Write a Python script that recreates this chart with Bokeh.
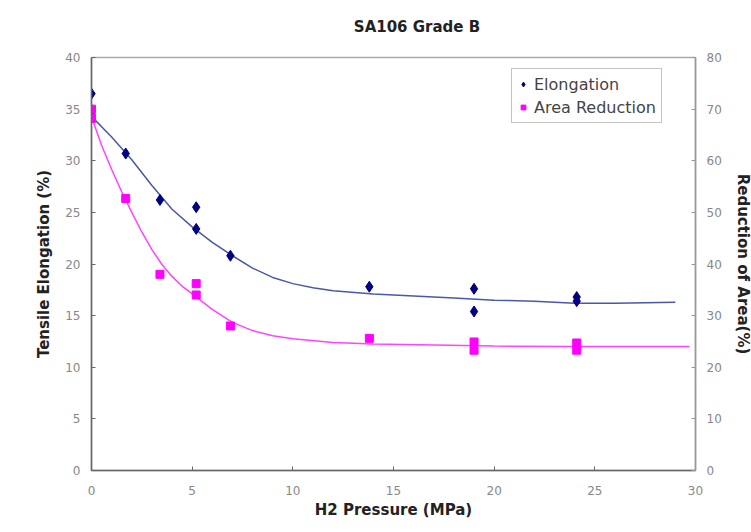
import math
from bokeh.plotting import figure
from bokeh.models import Range1d, LinearAxis, FixedTicker, Legend, LegendItem
from bokeh.embed import file_html
from bokeh.resources import INLINE

# ---- data ----
pressure_el = [0, 0, 1.7, 3.4, 5.2, 5.2, 6.9, 13.8, 19.0, 19.0, 24.1, 24.1]
elongation = [36.5, 34.5, 30.7, 26.2, 25.5, 23.4, 20.8, 17.8, 17.6, 15.4, 16.8, 16.4]

pressure_ra = [0, 0, 1.7, 3.4, 5.2, 5.2, 6.9, 13.8, 19.0, 19.0, 24.1, 24.1]
area_reduction = [70.0, 68.2, 52.7, 38.0, 36.2, 34.0, 28.0, 25.6, 24.9, 23.3, 24.7, 23.3]

# trend curves
el_curve_x = [0, 1, 2, 3, 4, 5, 6, 7, 8, 9, 10, 11, 12, 14, 16, 18, 20, 22, 24, 26, 29]
el_curve_y = [34.3, 32.3, 30.1, 27.6, 25.3, 23.6, 22.1, 20.8, 19.6, 18.7, 18.1, 17.7,
              17.4, 17.1, 16.9, 16.7, 16.5, 16.4, 16.2, 16.2, 16.3]

ra_curve_x = [0, 0.5, 1, 1.5, 2, 2.5, 3, 3.5, 4, 4.5, 5, 6, 7, 8, 9, 10, 12, 14, 17, 20, 24, 29.7]
ra_curve_y = [68.5, 63.0, 58.3, 54.0, 50.0, 46.2, 42.8, 39.9, 37.6, 35.7, 34.2, 31.2,
              28.7, 27.1, 26.1, 25.5, 24.8, 24.5, 24.3, 24.1, 24.0, 24.0]

x_ticks = [0, 5, 10, 15, 20, 25, 30]
left_ticks = [0, 5, 10, 15, 20, 25, 30, 35, 40]
right_ticks = [0, 10, 20, 30, 40, 50, 60, 70, 80]

title_text = "SA106 Grade B"
x_label = "H2 Pressure (MPa)"
left_label = "Tensile Elongation (%)"
right_label = "Reduction of Area(%)"

FONT = "DejaVu Sans"

p = figure(frame_width=604, frame_height=413, output_backend="svg", toolbar_location=None,
           x_range=Range1d(0, 30), y_range=Range1d(0, 40),
           min_border_left=91, min_border_right=56, min_border_top=57, min_border_bottom=0)
p.extra_y_ranges = {"right": Range1d(0, 80)}

p.xgrid.visible = False
p.ygrid.visible = False
p.outline_line_color = "#aaaaaa"
p.outline_line_width = 1.5
p.background_fill_color = "white"
p.border_fill_color = "white"

def style_axis(ax, ticks, line_color):
    ax.ticker = FixedTicker(ticks=ticks)
    ax.major_tick_in = 4
    ax.major_tick_out = 0
    ax.minor_tick_line_color = None
    ax.axis_line_color = line_color
    ax.axis_line_width = 1.5
    ax.major_tick_line_color = line_color
    ax.major_label_text_font = FONT
    ax.major_label_text_font_size = "12px"
    ax.major_label_text_color = "#888888"
    ax.axis_label_text_font = FONT
    ax.axis_label_text_font_size = "15px"
    ax.axis_label_text_font_style = "bold"
    ax.axis_label_text_color = "#222222"

def label_only(ax):
    ax.ticker = FixedTicker(ticks=[])
    ax.axis_line_color = None
    ax.major_tick_line_color = None
    ax.minor_tick_line_color = None
    ax.major_tick_in = 0
    ax.major_tick_out = 0
    ax.major_label_standoff = 0
    ax.axis_label_text_font = FONT
    ax.axis_label_text_font_size = "15px"
    ax.axis_label_text_font_style = "bold"
    ax.axis_label_text_color = "#222222"

xa = p.xaxis[0]
style_axis(xa, x_ticks, "#666666")
xa.axis_label = x_label
xa.major_label_standoff = 15
xa.axis_label_standoff = 3

ya = p.yaxis[0]
style_axis(ya, left_ticks, "#666666")
ya.axis_label = left_label
ya.major_label_standoff = 11
ya.axis_label_standoff = 9

ra = LinearAxis(y_range_name="right")
style_axis(ra, right_ticks, "#999999")
ra.major_label_standoff = 11
ra.axis_label = right_label
ra.axis_label_standoff = 9
p.add_layout(ra, "right")

# chart title, set slightly right of centre as in the reference
title_ax = LinearAxis()
label_only(title_ax)
title_ax.axis_label = "\u00a0" * 9 + title_text
title_ax.axis_label_standoff = 22
p.add_layout(title_ax, "above")

# curves
p.line(el_curve_x, el_curve_y, line_color="#4a58a8", line_width=1.5)
p.line(ra_curve_x, ra_curve_y, line_color="#ff44ff", line_width=1.5, y_range_name="right")

# points
r_el = p.scatter(pressure_el, elongation, marker="diamond", size=11,
                 fill_color="#000080", line_color="#000080")
r_ra = p.scatter(pressure_ra, area_reduction, marker="square", size=8,
                 fill_color="#ff00ff", line_color="#ff00ff", y_range_name="right")

legend = Legend(items=[LegendItem(label="Elongation", renderers=[r_el]),
                       LegendItem(label="Area Reduction", renderers=[r_ra])],
                location=(420, 347))
legend.label_text_font = FONT
legend.label_text_font_size = "16px"
legend.label_text_color = "#444444"
legend.border_line_color = "#888888"
legend.border_line_width = 1
legend.padding = 5
legend.spacing = 3
legend.label_height = 20
legend.glyph_width = 12
legend.glyph_height = 20
legend.label_standoff = 5
legend.margin = 0
legend.background_fill_alpha = 1
p.add_layout(legend, "center")

open("out.html", "w").write(file_html(p, INLINE))
